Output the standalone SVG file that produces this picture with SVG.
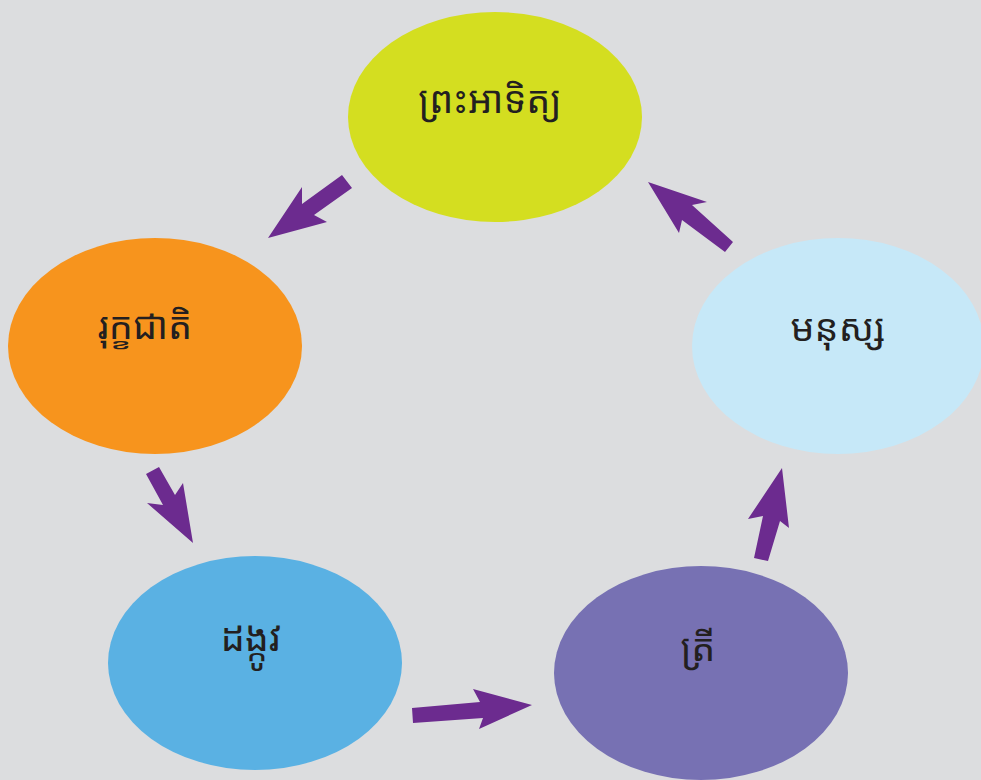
<svg xmlns="http://www.w3.org/2000/svg" width="981" height="780" viewBox="0 0 981 780">
<style>
.lbl{font-family:"Noto Sans Khmer","Khmer OS","Noto Sans","DejaVu Sans",sans-serif;font-size:38px;fill:#231f20;text-anchor:middle}
.arr{fill:#6c2b8f}
</style>
<rect width="981" height="780" fill="#dcdddf"/>
<g id="sun"><ellipse cx="495" cy="117" rx="147" ry="105" fill="#d4de20"/><text class="lbl" x="490" y="113">ព្រះអាទិត្យ</text></g>
<g id="plant"><ellipse cx="155" cy="346" rx="147" ry="108" fill="#f7941d"/><text class="lbl" x="145" y="339">រុក្ខជាតិ</text></g>
<g id="human"><ellipse cx="838" cy="346" rx="146" ry="108" fill="#c6e8f8"/><text class="lbl" x="838" y="341">មនុស្ស</text></g>
<g id="worm"><ellipse cx="255" cy="663" rx="147" ry="107" fill="#5ab1e3"/><text class="lbl" x="251" y="651">ដង្កូវ</text></g>
<g id="fish"><ellipse cx="701" cy="673" rx="147" ry="107" fill="#7771b3"/><text class="lbl" x="698" y="661">ត្រី</text></g>
<g id="connectors">
<polygon class="arr" points="342,175 302,204 302,187 268,238 327,222 314,215 352,188"/>
<polygon class="arr" points="146,474 159,467 175,495 183,483 193,543 147,503 163,505"/>
<polygon class="arr" points="412,708 480,702 473,689 532,705 479,729 483,718 413,723"/>
<polygon class="arr" points="754,558 763,516 748,519 782,468 789,528 780,521 768,561"/>
<polygon class="arr" points="648,182 707,202 692,205 733,242 725,252 682,220 679,233"/>
</g>
</svg>
